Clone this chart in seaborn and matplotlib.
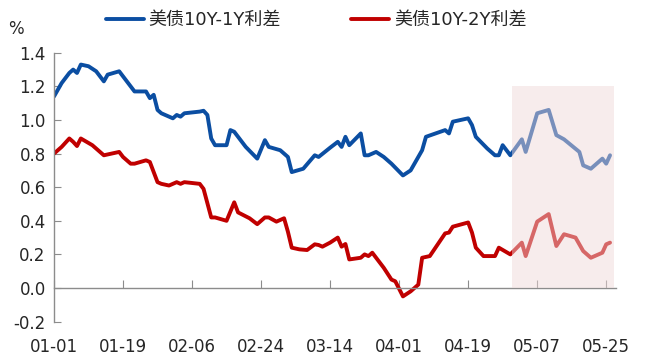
import pandas as pd
import matplotlib
matplotlib.use("Agg")
import matplotlib.pyplot as plt
import matplotlib.dates as mdates
from matplotlib.patches import Rectangle
import seaborn as sns

start = pd.Timestamp("2019-01-01")

# 10Y-1Y spread (days after 01-01, %)
blue_day = [0, 2, 4, 5, 6, 7, 9, 11, 13, 14, 17, 19, 21, 24, 25, 26, 27, 28, 31, 32,
            33, 34, 38, 39, 40, 41, 42, 45, 46, 47, 50, 53, 55, 56, 59, 61, 62, 65, 68, 69,
            72, 74, 75, 76, 77, 80, 81, 82, 84, 86, 88, 91, 93, 96, 97, 102, 103, 104, 108, 109,
            110, 113, 115, 116, 117, 119, 122, 123, 126, 129, 131, 133, 137, 138, 140, 143, 144, 145]
blue_val = [1.14, 1.22, 1.28, 1.30, 1.28, 1.33, 1.32, 1.29, 1.23, 1.27, 1.29, 1.23, 1.17, 1.17, 1.13, 1.15, 1.06, 1.04, 1.01, 1.03,
            1.02, 1.04, 1.05, 1.055, 1.03, 0.89, 0.85, 0.85, 0.94, 0.93, 0.84, 0.77, 0.88, 0.84, 0.82, 0.78, 0.69, 0.71, 0.79, 0.78,
            0.835, 0.87, 0.84, 0.90, 0.85, 0.92, 0.79, 0.79, 0.81, 0.78, 0.74, 0.67, 0.70, 0.82, 0.90, 0.94, 0.92, 0.99, 1.01, 0.97,
            0.90, 0.83, 0.79, 0.79, 0.85, 0.79, 0.885, 0.81, 1.04, 1.06, 0.91, 0.885, 0.81, 0.73, 0.71, 0.77, 0.74, 0.79]

# 10Y-2Y spread
red_day = [0, 2, 4, 5, 6, 7, 10, 13, 17, 18, 20, 21, 24, 25, 27, 28, 30, 32, 33, 34,
           38, 39, 41, 42, 45, 47, 48, 51, 53, 55, 56, 58, 60, 61, 62, 64, 66, 68, 69, 70,
           72, 74, 75, 76, 77, 80, 81, 82, 83, 86, 88, 89, 91, 93, 95, 96, 98, 102, 103, 104,
           108, 109, 110, 112, 115, 116, 119, 122, 123, 126, 129, 131, 133, 136, 138, 140, 143, 144, 145]
red_val = [0.80, 0.84, 0.89, 0.87, 0.845, 0.89, 0.85, 0.79, 0.81, 0.78, 0.74, 0.74, 0.76, 0.75, 0.63, 0.62, 0.61, 0.63, 0.62, 0.63,
           0.62, 0.59, 0.42, 0.42, 0.40, 0.51, 0.45, 0.415, 0.38, 0.42, 0.42, 0.395, 0.415, 0.335, 0.24, 0.23, 0.226, 0.26, 0.256, 0.246,
           0.27, 0.30, 0.246, 0.262, 0.17, 0.18, 0.20, 0.19, 0.21, 0.12, 0.05, 0.04, -0.05, -0.02, 0.02, 0.18, 0.19, 0.325, 0.33, 0.365,
           0.39, 0.33, 0.24, 0.19, 0.19, 0.24, 0.20, 0.27, 0.19, 0.395, 0.44, 0.25, 0.32, 0.30, 0.22, 0.18, 0.21, 0.26, 0.27]

tick_days = [0, 18, 36, 54, 72, 90, 108, 126, 144]
y_ticks = [-0.2, 0.0, 0.2, 0.4, 0.6, 0.8, 1.0, 1.2, 1.4]
labels = ["美债10Y-1Y利差", "美债10Y-2Y利差"]

sns.set_style("white")
plt.rcParams["font.family"] = ["DejaVu Sans", "Noto Sans CJK SC"]

blue_df = pd.DataFrame({"date": start + pd.to_timedelta(blue_day, unit="D"), "v": blue_val})
red_df = pd.DataFrame({"date": start + pd.to_timedelta(red_day, unit="D"), "v": red_val})

fig = plt.figure(figsize=(6.56, 3.59), dpi=100)
ax = fig.add_axes([0.0823, 0.1042, 0.8564, 0.7487])

sns.lineplot(data=blue_df, x="date", y="v", ax=ax, color="#0b4ea2", lw=2.8, label=labels[0])
sns.lineplot(data=red_df, x="date", y="v", ax=ax, color="#c00000", lw=2.8, label=labels[1])

# shaded window, drawn over the lines so they look faded
x0 = mdates.date2num(start + pd.Timedelta(days=119.5))
x1 = mdates.date2num(start + pd.Timedelta(days=146))
ax.add_patch(Rectangle((x0, 0), x1 - x0, 1.2, facecolor="#f0d8d8", alpha=0.48,
                       edgecolor="none", zorder=5))

ax.set_xlim(start, start + pd.Timedelta(days=146.5))
ax.set_ylim(-0.2, 1.4)
ax.set_xticks(start + pd.to_timedelta(tick_days, unit="D"))
ax.xaxis.set_major_formatter(mdates.DateFormatter("%m-%d"))
ax.set_yticks(y_ticks)
ax.set_yticklabels([f"{t:.1f}" for t in y_ticks])
ax.set_xlabel("")
ax.set_ylabel("")

for s in ["top", "right"]:
    ax.spines[s].set_visible(False)
ax.spines["bottom"].set_position(("data", 0))
for s in ["left", "bottom"]:
    ax.spines[s].set_color("#8c8c8c")
    ax.spines[s].set_linewidth(1.0)

ax.tick_params(axis="y", direction="in", length=5, color="#8c8c8c", labelsize=12, pad=6, left=True)
ax.tick_params(axis="x", direction="in", length=6, color="#8c8c8c", labelsize=12, pad=36, bottom=True)

ax.get_legend().remove()
h, l = ax.get_legend_handles_labels()
fig.legend(h, l, loc="center", bbox_to_anchor=(0.482, 0.944), ncol=2, frameon=False,
           fontsize=13, handlelength=2.1, handletextpad=0.25, columnspacing=3.9)

fig.text(0.012, 0.92, "%", fontsize=12, ha="left", va="center")

fig.savefig("out.png", dpi=100)
